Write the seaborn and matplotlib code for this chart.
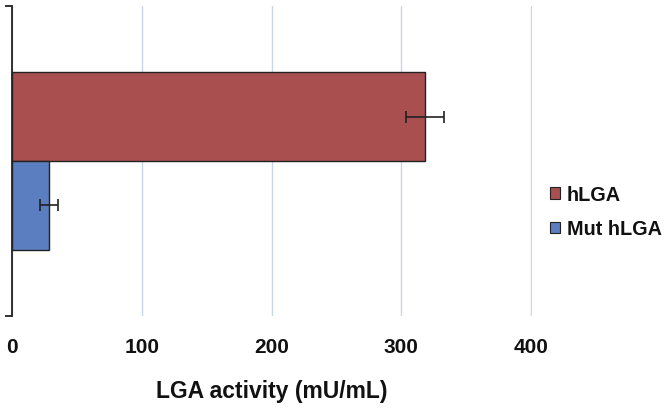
import matplotlib
matplotlib.use("Agg")
import matplotlib.pyplot as plt
import seaborn as sns
import pandas as pd
from matplotlib.patches import Patch

series = ["hLGA", "Mut hLGA"]
values = [318, 28.5]
errors = [14.5, 7.0]
group = ["LGA", "LGA"]
xticks = [0, 100, 200, 300, 400]
colors = ["#A94F4F", "#5B7EC0"]

sns.set_theme(style="white")
plt.rcParams['font.family'] = ['Liberation Sans', 'DejaVu Sans']
plt.rcParams['text.color'] = '#111111'
plt.rcParams['xtick.color'] = '#111111'
plt.rcParams['axes.labelcolor'] = '#111111'

df = pd.DataFrame({"series": series, "value": values, "group": group})

fig = plt.figure(figsize=(6.72, 4.10), dpi=100)
ax = fig.add_axes([12/672, 1 - 317/410, (532 - 12)/672, (317 - 7)/410])

sns.barplot(data=df, x="value", y="group", hue="series", orient="h",
            palette=colors, saturation=1, width=0.574, dodge=True, errorbar=None,
            edgecolor="#222222", linewidth=1.0, legend=False, ax=ax, zorder=2)

# error bars at bar centers
for p, v, e in zip(ax.patches[:len(values)], values, errors):
    yc = p.get_y() + p.get_height() / 2
    ax.errorbar(v, yc, xerr=e, fmt="none", ecolor="#222222", elinewidth=1.2,
                capsize=4, capthick=1.2, zorder=3)

ax.set_xlim(0, 400.6)
ax.set_ylim(0.5, -0.5)
ax.set_xticks(xticks)
ax.set_xticklabels([str(t) for t in xticks], fontsize=15, fontweight="bold", color="#111111")
ax.set_yticks([-0.5, 0.5])
ax.set_yticklabels(["", ""])
ax.tick_params(axis="x", length=0, pad=15)
ax.tick_params(axis="y", length=5, width=1.3, color="#222222", direction="out", left=True)
ax.grid(axis="x", color="#C9D6EA", linewidth=1.0, zorder=0)
ax.set_axisbelow(True)
for s in ["top", "right", "bottom"]:
    ax.spines[s].set_visible(False)
ax.spines["left"].set_color("#222222")
ax.spines["left"].set_linewidth(1.3)
ax.set_ylabel("")
ax.set_xlabel("LGA activity (mU/mL)", fontsize=16.5, fontweight="bold", labelpad=17,
              color="#111111")

handles = [Patch(facecolor=c, edgecolor="#222222", linewidth=0.8) for c in colors]
fig.legend(handles, series, loc="upper left", bbox_to_anchor=(550/672, 1 - 186/410),
           frameon=False, prop={"size": 14.3, "weight": "bold"},
           handlelength=0.5, handleheight=0.5, handletextpad=0.35, labelspacing=0.78,
           borderaxespad=0, borderpad=0, labelcolor="#111111")

fig.savefig("out.png", dpi=100)
